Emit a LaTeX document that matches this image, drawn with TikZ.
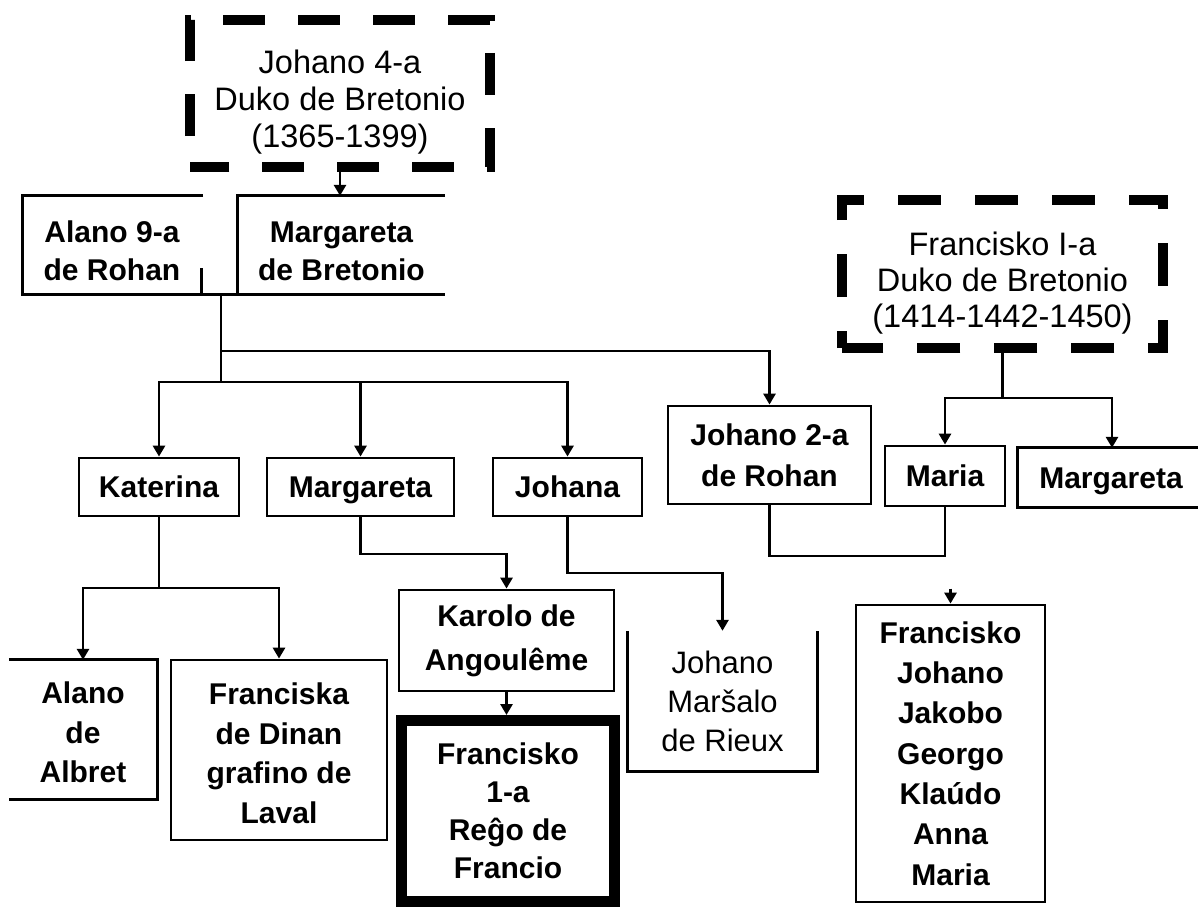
\documentclass[tikz,border=0pt]{standalone}
\usepackage{fontspec}
\setmainfont{Liberation Sans}
\usetikzlibrary{arrows.meta}
\begin{document}
\begin{tikzpicture}[x=1pt,y=-1pt,
  txt/.style={align=center, inner sep=0pt, font=\fontsize{32.5}{#1}\selectfont},
  txt/.default=37,
  btxt/.style={align=center, inner sep=0pt, font=\bfseries\fontsize{30}{#1}\selectfont},
  btxt/.default=37,
  one/.style={text height=21.5pt, text depth=0pt},
  ln/.style={line width=2.8pt},
  frame/.style={draw, line width=2.8pt},
  arr/.style={line width=2.8pt, -{Triangle[length=11pt,width=12pt]}},
  dbox/.style={line width=10pt, dash pattern=on 42pt off 33pt},
  thickbox/.style={draw, line width=11pt}
]
\useasboundingbox (0,0) rectangle (1198,907);
\fill[white] (0,0) rectangle (1198,907);

% top generation
\node[txt=37, minimum width=300pt, minimum height=147pt] (j4) at (340,93.5) {\rule{0pt}{40pt}Johano 4-a\\Duko de Bretonio\\(1365-1399)};
\node[btxt=38, minimum width=178pt, minimum height=98pt] (alano9) at (112,245) {\rule{0pt}{34pt}Alano 9-a\\de Rohan};
\node[btxt=38, minimum width=207pt, minimum height=98pt] (margB) at (341.5,245) {\rule{0pt}{34pt}Margareta\\de Bretonio};
\node[txt=36, minimum width=321pt, minimum height=148pt] (fI) at (1002.5,274) {\rule{0pt}{42pt}Francisko I-a\\Duko de Bretonio\\(1414-1442-1450)};
\draw[dbox, dash phase=44pt] (j4.south west) -- (j4.north west) -- (j4.north east) -- (j4.south east) -- cycle;
\draw[dbox, dash pattern=on 43pt off 34pt, dash phase=26pt] (fI.south west) -- (fI.north west) -- (fI.north east) -- (fI.south east) -- cycle;

% second generation
\node[btxt, one, frame, minimum width=160pt, minimum height=58pt] (kat) at (159,487) {Katerina};
\node[btxt, one, frame, minimum width=187pt, minimum height=58pt] (marg) at (360.5,487) {Margareta};
\node[btxt, one, frame, minimum width=149pt, minimum height=58pt] (johana) at (567.5,487) {Johana};
\node[btxt=41, frame, minimum width=203pt, minimum height=98pt] (j2) at (769.5,455) {Johano 2-a\\de Rohan};
\node[btxt, one, frame, minimum width=120pt, minimum height=60pt] (maria) at (945,476) {Maria};
\node[btxt, one, minimum width=180pt, minimum height=59pt] (margR) at (1108,477.5) {\hspace*{6pt}Margareta};

% third generation
\node[btxt=39.5, minimum width=148pt, minimum height=139pt] (albret) at (83,729.5) {\rule{0pt}{28pt}Alano\\de\\Albret};
\node[btxt=39.5, frame, minimum width=216pt, minimum height=180pt] (franciska) at (279,750) {\rule{0pt}{28pt}Franciska\\de Dinan\\grafino de\\Laval};
\node[btxt=44, frame, minimum width=215pt, minimum height=101pt] (karolo) at (506.5,640.5) {Karolo de\\Angoulême};
\node[btxt=38, thickbox, minimum width=213pt, minimum height=181pt] (f1) at (508,811) {Francisko\\1-a\\Reĝo de\\Francio};
\node[txt=39, font=\fontsize{31}{39}\selectfont, minimum width=189pt, minimum height=140pt] (marsalo) at (722.5,701) {Johano\\Maršalo\\de Rieux};
\node[btxt=40.3, frame, minimum width=189pt, minimum height=297pt] (kids) at (950.5,753.5) {Francisko\\Johano\\Jakobo\\Georgo\\Klaúdo\\Anna\\Maria};

% open box borders
\draw[ln] ([xshift=2pt]alano9.north east) -- (alano9.north west) -- (alano9.south west) -- (margB.south east);
\draw[ln] (alano9.south east) -- ([yshift=26pt]alano9.south east);
\draw[ln] (margB.north east) -- (margB.north west) -- (margB.south west);
\draw[ln] (margR.north east) -- (margR.north west) -- (margR.south west) -- (margR.south east);
\draw[ln] (albret.north west) -- (albret.north east) -- (albret.south east) -- (albret.south west);
\draw[ln] (marsalo.north west) -- (marsalo.south west) -- (marsalo.south east) -- (marsalo.north east);

% bend levels
\coordinate (pA) at (221,294);
\coordinate (l1) at (0,351);
\coordinate (l2) at (0,382);
\coordinate (l3) at (0,398);
\coordinate (l4) at (0,556);
\coordinate (l5) at (0,588);
\coordinate (l6) at (0,554);
\coordinate (l7) at (0,573);

% connectors
\draw[arr] ([yshift=-5pt]j4.south) -- (j4.south |- margB.north);
\draw[ln] (pA) -- (pA |- l2);
\draw[arr] (pA |- l1) -| (j2.north);
\draw[arr] (pA |- l2) -| (kat.north);
\draw[arr] (pA |- l2) -| (marg.north);
\draw[arr] (pA |- l2) -| (johana.north);

\draw[ln] ([yshift=-5pt]fI.south) -- (fI.south |- l3);
\draw[arr] (fI.south |- l3) -| (maria.north);
\draw[arr] (fI.south |- l3) -| ([xshift=4pt]margR.north);

\draw[ln] (j2.south) |- (l4 -| maria.south) -- (maria.south);
\draw[arr] ([yshift=15pt]kids.north) -- (kids.north);

\draw[ln] (kat.south) -- (kat.south |- l5);
\draw[arr] (kat.south |- l5) -| (albret.north);
\draw[arr] (kat.south |- l5) -| (franciska.north);

\draw[arr] (marg.south) |- (l6 -| karolo.north) -- (karolo.north);
\draw[arr] (karolo.south) -- (karolo.south |- f1.north);
\draw[arr] (johana.south) |- (l7 -| marsalo.north) -- (marsalo.north);
\end{tikzpicture}
\end{document}
